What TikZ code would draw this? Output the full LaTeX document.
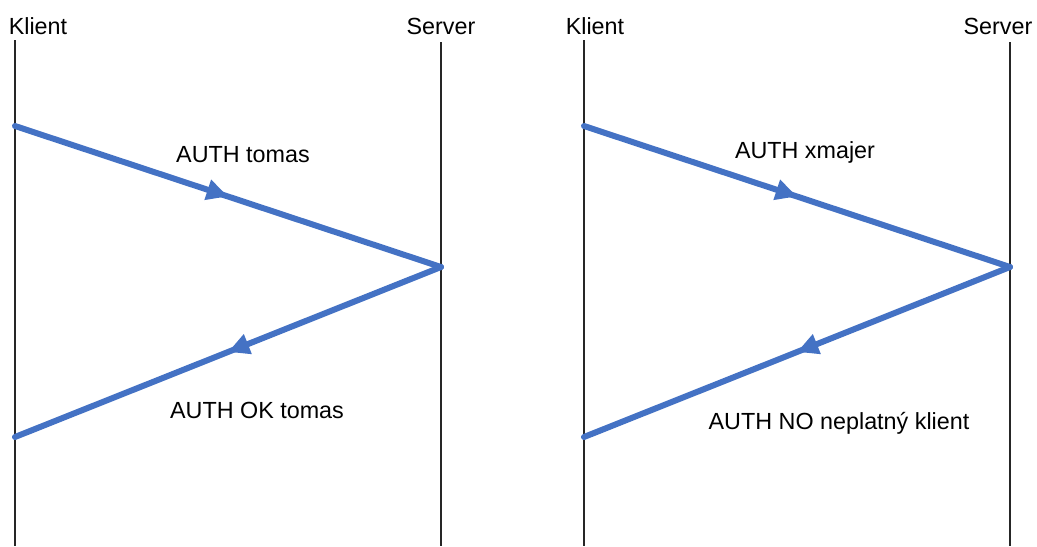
\documentclass[tikz,border=0pt]{standalone}
\usepackage{fontspec}
\setmainfont{Liberation Sans}
\usetikzlibrary{arrows.meta,decorations.markings}
\definecolor{msgblue}{RGB}{68,114,196}
\tikzset{
  lifeline/.style={draw=black!85, line width=0.8pt},
  actor/.style={font=\fontsize{17.5}{20}\selectfont, inner sep=0pt},
  msglabel/.style={font=\fontsize{17.5}{20}\selectfont, inner sep=0pt},
  message/.style={draw=msgblue, line width=4.5pt, line cap=round,
    postaction={decorate},
    decoration={markings, mark=at position 0.5 with
      {\arrow{Triangle[length=16pt,width=15pt]}}}},
}
\begin{document}
\begin{tikzpicture}[x=0.75pt,y=-0.75pt]
  \useasboundingbox (0,0) rectangle (1037,546);

  % ---- first exchange ----
  \node[actor] (k1) at (38,26) {Klient};
  \node[actor] (s1) at (441,26) {Server};
  \coordinate (k1top) at (15,40);
  \coordinate (k1bot) at (15,546);
  \coordinate (s1top) at (441,42);
  \coordinate (s1bot) at (441,546);
  \draw[lifeline] (k1top) -- (k1bot);
  \draw[lifeline] (s1top) -- (s1bot);

  \coordinate (a1) at (15,126);
  \coordinate (b1) at (441,267);
  \coordinate (c1) at (15,437);
  \draw[message] (a1) -- (b1);
  \draw[message] (b1) -- (c1);
  \node[msglabel] (m1) at (243,155) {AUTH tomas};
  \node[msglabel] (m2) at (257,410) {AUTH OK tomas};

  % ---- second exchange ----
  \node[actor] (k2) at (595,26) {Klient};
  \node[actor] (s2) at (998,26) {Server};
  \coordinate (k2top) at (584,40);
  \coordinate (k2bot) at (584,546);
  \coordinate (s2top) at (1010,42);
  \coordinate (s2bot) at (1010,546);
  \draw[lifeline] (k2top) -- (k2bot);
  \draw[lifeline] (s2top) -- (s2bot);

  \coordinate (a2) at (584,126);
  \coordinate (b2) at (1010,267);
  \coordinate (c2) at (584,437);
  \draw[message] (a2) -- (b2);
  \draw[message] (b2) -- (c2);
  \node[msglabel] (m3) at (805,152) {AUTH xmajer};
  \node[msglabel] (m4) at (839,423) {AUTH NO neplatný klient};
\end{tikzpicture}
\end{document}
